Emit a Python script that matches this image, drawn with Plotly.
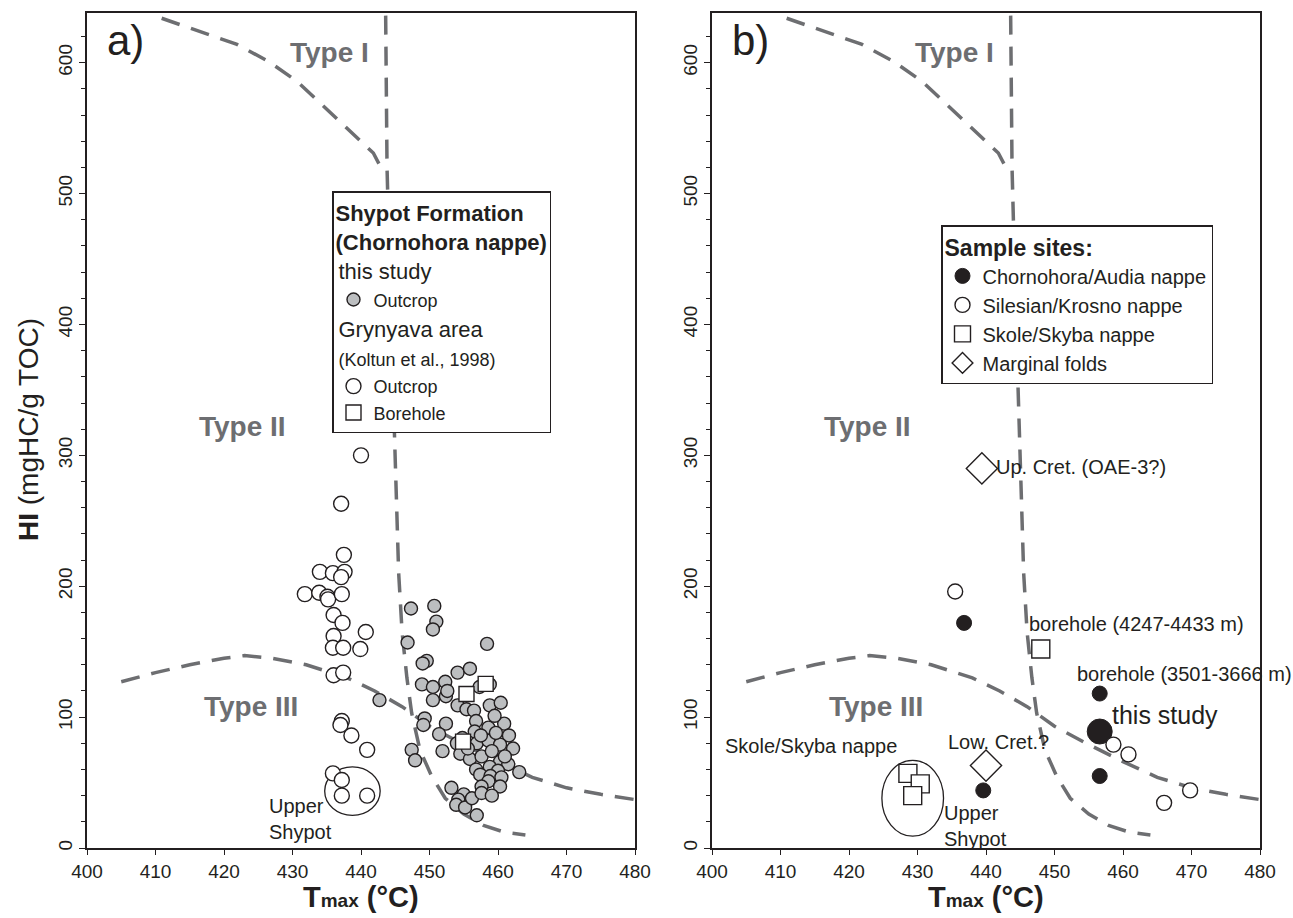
import plotly.graph_objects as go

# ---------------- data: panel a ----------------
a_study_T = [450.7, 451.0, 450.5, 458.4, 449.6, 449.0, 454.1, 455.9, 448.9, 450.5, 452.3, 457.3, 458.8,
             450.5, 452.4, 454.1, 455.4, 456.5, 458.8, 460.4, 449.3, 449.1, 452.4, 456.8, 451.4, 458.6,
             460.9, 461.6, 456.6, 454.0, 451.9, 454.5, 455.9, 456.9, 458.6, 460.3, 462.2, 457.6, 459.1,
             460.3, 461.5, 456.8, 458.8, 460.0, 463.1, 457.4, 458.9, 460.5, 458.6, 460.3, 457.6, 453.2,
             455.0, 454.2, 453.9, 455.2, 456.2, 457.6, 459.1, 456.9, 447.3, 446.8, 442.7, 447.4, 447.9,
             452.6, 454.8, 457.5, 459.7, 455.6, 461.0, 459.5]
a_study_HI = [185, 173, 167, 156, 143, 141, 134, 137, 125, 123, 127, 123, 125,
              113, 116, 109, 106, 105, 109, 111, 99, 94, 95, 97, 87, 92,
              95, 86, 89, 80, 74, 72, 68, 80, 82, 79, 76, 70, 74,
              66, 64, 60, 62, 59, 58, 56, 55, 54, 51, 47, 47, 46,
              41, 37, 33, 31, 38, 42, 40, 25, 183, 157, 113, 75, 67,
              120, 84, 86, 88, 76, 70, 101]
a_koltun_T = [440.0, 437.1, 437.5, 434.0, 435.9, 437.6, 437.1, 431.8, 433.9, 435.1, 435.2, 437.2, 436.0,
              437.3, 436.0, 435.9, 437.4, 440.7, 439.9, 436.0, 437.4, 437.2, 437.0, 438.6, 440.9, 435.9,
              437.2, 437.2, 440.9]
a_koltun_HI = [300, 263, 224, 211, 210, 211, 207, 194, 195, 192, 190, 194, 178,
               172, 162, 153, 153, 165, 152, 132, 134, 97, 94, 86, 75, 57,
               52, 40, 40]
a_bore_T = [455.4, 458.2, 454.9]
a_bore_HI = [117.7, 125.4, 81.3]

# ---------------- data: panel b ----------------
b_chorno_T = [436.8, 456.6, 456.6, 439.6]
b_chorno_HI = [172, 118, 55, 44]
b_this_T = [456.6]
b_this_HI = [89]
b_silesian_T = [435.5, 458.6, 460.8, 466.0, 469.8]
b_silesian_HI = [196, 79, 71.5, 34.5, 44]
b_skole_T = [428.6, 430.4, 429.3, 448.0]
b_skole_HI = [57, 49, 40, 152]
b_marginal_T = [439.4, 440.0]
b_marginal_HI = [290, 63]

# ---------------- kerogen type boundaries ----------------
type1_T = [410.9, 416.5, 421.9, 426.5, 430.6, 434.5, 438.4, 441.8, 443.2]
type1_HI = [634, 624, 614, 601, 586, 567, 548, 531, 517]
vert_T = [443.6, 443.8, 444.4, 445.0, 445.5, 446.0, 446.7, 447.4, 448.6, 450.3, 452.3, 455.0, 458.0, 461.0, 464.0]
vert_HI = [636, 520, 400, 300, 210, 165, 130, 103, 75, 55, 38, 26, 17, 12, 10]
type3_T = [405, 410, 415, 420, 423, 427, 432, 438, 442, 446, 450, 455, 460, 465, 470, 475, 480]
type3_HI = [127, 134, 140, 145, 147, 145, 140, 130, 120, 108, 93, 79, 66, 54, 46, 41, 37]

# ellipses (T0, T1, HI0, HI1)
a_ellipse = [434.7, 442.8, 25, 62]
b_ellipse = [424.8, 433.8, 9, 67]

W, H = 1293, 918
FONT = "Liberation Sans, Arial, sans-serif"
INK = "#231f20"
DASH = "#6d6e71"
GRAYFILL = "#bcbec0"

xa_px = (87, 635)
xb_px = (712, 1260)
y_px = (13, 848)

fig = go.Figure()

line_style = dict(color=DASH, width=3.5, dash="19px,12px")
for xr, yr in (("x", "y"), ("x2", "y2")):
    for tx, hy in ((type1_T, type1_HI), (vert_T, vert_HI), (type3_T, type3_HI)):
        fig.add_trace(go.Scatter(x=tx, y=hy, mode="lines", line=line_style, xaxis=xr, yaxis=yr,
                                 showlegend=False, hoverinfo="skip"))

# panel a markers
fig.add_trace(go.Scatter(x=a_study_T, y=a_study_HI, mode="markers", name="Outcrop",
                         marker=dict(symbol="circle", size=13, color=GRAYFILL, line=dict(color=INK, width=1.4)),
                         legend="legend", legendgroup="study",
                         legendgrouptitle=dict(text="this study", font=dict(size=22, color=INK))))
fig.add_trace(go.Scatter(x=a_koltun_T, y=a_koltun_HI, mode="markers", name="Outcrop",
                         marker=dict(symbol="circle", size=15, color="white", line=dict(color=INK, width=1.4)),
                         legend="legend", legendgroup="koltun",
                         legendgrouptitle=dict(text="Grynyava area<br><span style='font-size:18px'>(Koltun et al., 1998)</span>",
                                               font=dict(size=22, color=INK))))
fig.add_trace(go.Scatter(x=a_bore_T, y=a_bore_HI, mode="markers", name="Borehole",
                         marker=dict(symbol="square", size=15, color="white", line=dict(color=INK, width=1.4)),
                         legend="legend", legendgroup="koltun"))

# panel b markers
fig.add_trace(go.Scatter(x=b_chorno_T, y=b_chorno_HI, mode="markers", name="Chornohora/Audia nappe",
                         marker=dict(symbol="circle", size=15, color=INK, line=dict(color=INK, width=1)),
                         xaxis="x2", yaxis="y2", legend="legend2"))
fig.add_trace(go.Scatter(x=b_this_T, y=b_this_HI, mode="markers", showlegend=False,
                         marker=dict(symbol="circle", size=25, color=INK, line=dict(color=INK, width=1)),
                         xaxis="x2", yaxis="y2", legend="legend2"))
fig.add_trace(go.Scatter(x=b_silesian_T, y=b_silesian_HI, mode="markers", name="Silesian/Krosno nappe",
                         marker=dict(symbol="circle", size=15, color="white", line=dict(color=INK, width=1.4)),
                         xaxis="x2", yaxis="y2", legend="legend2"))
fig.add_trace(go.Scatter(x=b_skole_T, y=b_skole_HI, mode="markers", name="Skole/Skyba nappe",
                         marker=dict(symbol="square", size=18, color="white", line=dict(color=INK, width=1.4)),
                         xaxis="x2", yaxis="y2", legend="legend2"))
fig.add_trace(go.Scatter(x=b_marginal_T, y=b_marginal_HI, mode="markers", name="Marginal folds",
                         marker=dict(symbol="diamond", size=24, color="white", line=dict(color=INK, width=1.4)),
                         xaxis="x2", yaxis="y2", legend="legend2"))

shapes = []
for (t0, t1, h0, h1), xr, yr in ((a_ellipse, "x", "y"), (b_ellipse, "x2", "y2")):
    shapes.append(dict(type="circle", xref=xr, yref=yr, x0=t0, x1=t1, y0=h0, y1=h1,
                       line=dict(color=INK, width=1.3), fillcolor="rgba(0,0,0,0)", layer="below"))

def fx(px):
    return px / W

def fy(px):
    return 1 - px / H

xaxis_common = dict(range=[400, 480], dtick=10, tick0=400, ticks="outside", ticklen=5, tickwidth=1.4,
                    tickcolor=INK, showline=True, linecolor=INK, linewidth=1.5, mirror=True,
                    showgrid=False, zeroline=False, tickfont=dict(size=19, color=INK), fixedrange=True,
                    automargin=False)
yaxis_common = dict(range=[0, 638], dtick=100, tick0=0, ticks="outside", ticklen=6, tickwidth=1.4,
                    tickcolor=INK, showline=True, linecolor=INK, linewidth=1.5, mirror=True,
                    showgrid=False, zeroline=False, tickangle=-90, tickfont=dict(size=19, color=INK),
                    minor=dict(dtick=20, ticks="outside", ticklen=4, tickwidth=1.2, tickcolor=INK, showgrid=False),
                    fixedrange=True, automargin=False)

ann = []
type_font = dict(size=28, color=DASH, family=FONT)
for xr, yr, lab in (("x", "y", "a)"), ("x2", "y2", "b)")):
    ann.append(dict(x=402.6, y=617, xref=xr, yref=yr, text=lab, showarrow=False, xanchor="left",
                    yanchor="middle", font=dict(size=42, color=INK)))
    ann.append(dict(x=435.4, y=608, xref=xr, yref=yr, text="<b>Type I</b>", showarrow=False, font=type_font,
                    xanchor="center"))
    ann.append(dict(x=422.7, y=322, xref=xr, yref=yr, text="<b>Type II</b>", showarrow=False, font=type_font,
                    xanchor="center"))
    ann.append(dict(x=424.0, y=108, xref=xr, yref=yr, text="<b>Type III</b>", showarrow=False, font=type_font,
                    xanchor="center"))

small = dict(size=20, color=INK)
xtitle = "<b>T<span style='font-size:19px'>max</span> (°C)</b>"
ann += [
    dict(x=426.3, y=22, xref="x", yref="y", text="Upper<br>Shypot", showarrow=False, xanchor="left",
         align="left", yanchor="middle", font=small),
    dict(x=438.4, y=37, xref="x2", yref="y2", text="Upper<br>Shypot", showarrow=False, xanchor="center",
         align="left", yanchor="top", font=small),
    dict(x=441.2, y=291, xref="x2", yref="y2", text="Up. Cret. (OAE-3?)", showarrow=False, xanchor="left", font=small),
    dict(x=446.0, y=171, xref="x2", yref="y2", text="borehole (4247-4433 m)", showarrow=False, xanchor="left", font=small),
    dict(x=453.0, y=133, xref="x2", yref="y2", text="borehole (3501-3666 m)", showarrow=False, xanchor="left",
         font=small),
    dict(x=458.1, y=102, xref="x2", yref="y2", text="this study", showarrow=False, xanchor="left",
         font=dict(size=25, color=INK)),
    dict(x=441.8, y=81, xref="x2", yref="y2", text="Low. Cret.?", showarrow=False, font=small, xanchor="center"),
    dict(x=414.5, y=78, xref="x2", yref="y2", text="Skole/Skyba nappe", showarrow=False, font=small,
         xanchor="center"),
    # axis titles
    dict(x=fx(29), y=fy(430), xref="paper", yref="paper", text="<b>HI</b> (mgHC/g TOC)", textangle=-90,
         showarrow=False, xanchor="center", yanchor="middle", font=dict(size=28, color=INK)),
    dict(x=fx((xa_px[0] + xa_px[1]) / 2), y=fy(897), xref="paper", yref="paper", xanchor="center",
         yanchor="middle", text=xtitle, showarrow=False, font=dict(size=29, color=INK)),
    dict(x=fx((xb_px[0] + xb_px[1]) / 2), y=fy(897), xref="paper", yref="paper", xanchor="center",
         yanchor="middle", text=xtitle, showarrow=False, font=dict(size=29, color=INK)),
]

fig.update_layout(
    width=W, height=H, margin=dict(l=0, r=0, t=0, b=0),
    paper_bgcolor="white", plot_bgcolor="white",
    font=dict(family=FONT, color=INK),
    xaxis=dict(domain=[fx(xa_px[0]), fx(xa_px[1])], anchor="y", **xaxis_common),
    yaxis=dict(domain=[fy(y_px[1]), fy(y_px[0])], anchor="x", **yaxis_common),
    xaxis2=dict(domain=[fx(xb_px[0]), fx(xb_px[1])], anchor="y2", **xaxis_common),
    yaxis2=dict(domain=[fy(y_px[1]), fy(y_px[0])], anchor="x2", **yaxis_common),
    shapes=shapes,
    annotations=ann,
    legend=dict(x=fx(332), y=fy(433), xanchor="left", yanchor="bottom", bgcolor="white",
                bordercolor=INK, borderwidth=1.5, font=dict(size=18, color=INK),
                title=dict(text="<b>Shypot Formation<br>(Chornohora nappe)</b>", font=dict(size=22, color=INK)),
                grouptitlefont=dict(size=22, color=INK), tracegroupgap=0, itemwidth=30,
                groupclick="toggleitem"),
    legend2=dict(x=fx(941), y=fy(225), xanchor="left", yanchor="top", bgcolor="white",
                 bordercolor=INK, borderwidth=1.5, font=dict(size=20, color=INK),
                 title=dict(text="<b>Sample sites:</b>", font=dict(size=23, color=INK)),
                 itemwidth=30),
    showlegend=True,
)

fig.write_html("out.html", config={"displayModeBar": False},
               post_script="document.body.style.margin='0';document.body.style.overflow='hidden';")
